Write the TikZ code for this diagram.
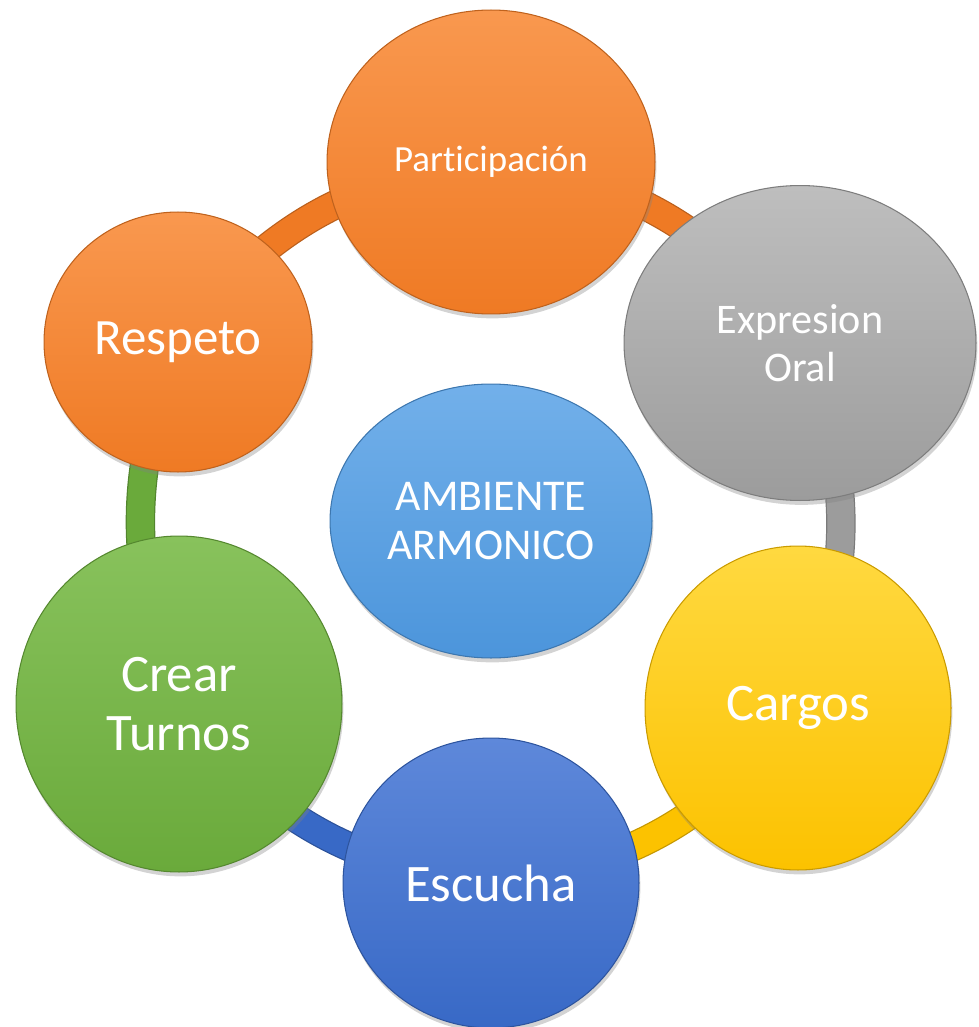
\documentclass[tikz,border=0pt]{standalone}
\usepackage{fontspec}
\setmainfont{Carlito}[Ligatures=CommonOff]
\usetikzlibrary{shapes.geometric,shadows,backgrounds}

\definecolor{OrangeHi}{HTML}{F9984F}
\definecolor{OrangeLo}{HTML}{EF7A24}
\definecolor{GrayHi}{HTML}{BEBEBE}
\definecolor{GrayLo}{HTML}{9C9C9C}
\definecolor{YellowHi}{HTML}{FFD940}
\definecolor{YellowLo}{HTML}{FCC200}
\definecolor{BlueHi}{HTML}{5E88DA}
\definecolor{BlueLo}{HTML}{3869C6}
\definecolor{GreenHi}{HTML}{88C25C}
\definecolor{GreenLo}{HTML}{6AAA3B}
\definecolor{SkyHi}{HTML}{72B0EA}
\definecolor{SkyLo}{HTML}{4C95DB}

\begin{document}
\begin{tikzpicture}[
  x=0.02cm, y=-0.02cm,
  bubble/.style={ellipse, inner sep=0pt, align=center, text=white,
    line width=0.6pt,
    drop shadow={shadow xshift=0.8pt, shadow yshift=-2.5pt, opacity=0.35}},
  orangebub/.style={bubble, top color=OrangeHi, bottom color=OrangeLo, draw=OrangeLo!80!black},
  graybub/.style={bubble, top color=GrayHi, bottom color=GrayLo, draw=GrayLo!80!black},
  yellowbub/.style={bubble, top color=YellowHi, bottom color=YellowLo, draw=YellowLo!80!black},
  bluebub/.style={bubble, top color=BlueHi, bottom color=BlueLo, draw=BlueLo!80!black},
  greenbub/.style={bubble, top color=GreenHi, bottom color=GreenLo, draw=GreenLo!80!black},
  skybub/.style={bubble, top color=SkyHi, bottom color=SkyLo, draw=SkyLo!80!black},
  ring/.style={draw=#1!78!black, double=#1, double distance=0.54cm, line width=0.7pt}
]
\useasboundingbox (0,0) rectangle (978,1027);

% Ring of bubbles
\node[orangebub, minimum width=6.56cm, minimum height=6.08cm,
  font=\fontsize{21}{25}\selectfont] (part) at (491,162) {Participación};
\node[graybub, minimum width=7.04cm, minimum height=6.3cm,
  font=\fontsize{24}{27}\selectfont] (expr) at (800,343) {Expresion\\Oral};
\node[yellowbub, minimum width=6.12cm, minimum height=6.48cm,
  font=\fontsize{30}{34}\selectfont] (carg) at (798,708) {Cargos};
\node[bluebub, minimum width=5.92cm, minimum height=5.8cm,
  font=\fontsize{30}{34}\selectfont] (escu) at (491,883) {Escucha};
\node[greenbub, minimum width=6.52cm, minimum height=6.72cm,
  font=\fontsize{30}{34}\selectfont] (turn) at (179,704) {Crear\\Turnos};
\node[orangebub, minimum width=5.36cm, minimum height=5.2cm,
  font=\fontsize{29}{33}\selectfont] (resp) at (178,342) {Respeto};

% Middle
\node[skybub, minimum width=6.44cm, minimum height=5.48cm,
  font=\fontsize{25}{28}\selectfont] (amb) at (491,521) {AMBIENTE\\ARMONICO};

% Bands between the bubbles
\begin{pgfonlayer}{background}
\draw[ring=OrangeLo] (part.center) to[bend left=23] (expr.center);
\draw[ring=GrayLo] (expr.center) to[bend left=23] (carg.center);
\draw[ring=YellowLo] (carg.center) to[bend left=23] (escu.center);
\draw[ring=BlueLo] (escu.center) to[bend left=23] (turn.center);
\draw[ring=GreenLo] (turn.center) to[bend left=21] (resp.center);
\draw[ring=OrangeLo] (resp.center) to[bend left=23] (part.center);
\end{pgfonlayer}

\end{tikzpicture}
\end{document}
